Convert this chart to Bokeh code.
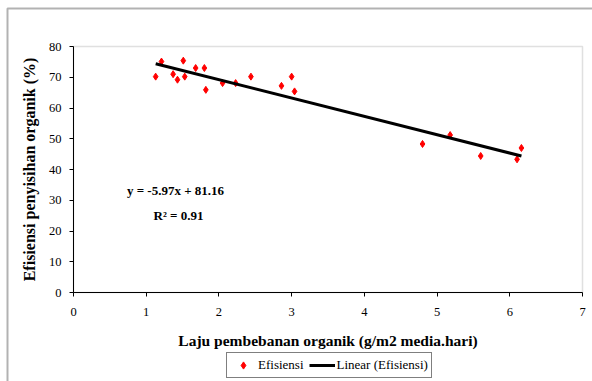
from bokeh.plotting import figure
from bokeh.models import (Range1d, Legend, LegendItem, Label, FixedTicker,
                          LinearAxis, BoxAnnotation)
from bokeh.embed import file_html
from bokeh.resources import INLINE

# Data
loading_rate = [1.13, 1.21, 1.37, 1.43, 1.51, 1.53, 1.68, 1.80, 1.82, 2.05,
                2.23, 2.44, 2.86, 3.00, 3.04, 4.80, 5.18, 5.60, 6.10, 6.16]
efficiency = [70.2, 75.1, 71.0, 69.2, 75.4, 70.2, 73.0, 73.0, 65.9, 68.1,
              68.1, 70.2, 67.2, 70.2, 65.4, 48.3, 51.2, 44.4, 43.3, 47.0]
trend_slope = -5.97
trend_intercept = 81.16
r_squared = 0.91
x_ticks = [0, 1, 2, 3, 4, 5, 6, 7]
y_ticks = [0, 10, 20, 30, 40, 50, 60, 70, 80]
x_axis_min, x_axis_max = 0, 7
y_axis_min, y_axis_max = 0, 80

FONT = "Liberation Serif"
W, H = 592, 381
# plot-area pixel box inside the canvas (layout only)
PL, PR, PT, PB = 73, 582, 46, 292
sx = (PR - PL) / (x_axis_max - x_axis_min)
sy = (PB - PT) / (y_axis_max - y_axis_min)
x_range = Range1d(x_axis_min - PL / sx, x_axis_max + (W - PR) / sx)
y_range = Range1d(y_axis_min - (H - PB) / sy, y_axis_max + PT / sy)

p = figure(width=W, height=H, output_backend="svg", toolbar_location=None,
           x_range=x_range, y_range=y_range, min_border=0,
           x_axis_location=None, y_axis_location=None)
p.background_fill_color = "white"
p.border_fill_color = "white"
p.outline_line_color = None
p.xgrid.visible = False
p.ygrid.visible = False

# plot-area frame (gray)
frame_box = BoxAnnotation(left=x_axis_min, right=x_axis_max, bottom=y_axis_min, top=y_axis_max,
                          fill_alpha=0, line_color="#999999", line_width=1.5, level="underlay")
p.add_layout(frame_box)

xaxis = LinearAxis(fixed_location=y_axis_min, bounds=(x_axis_min, x_axis_max),
                   ticker=FixedTicker(ticks=x_ticks),
                   axis_label="Laju pembebanan organik (g/m2 media.hari)")
yaxis = LinearAxis(fixed_location=x_axis_min, bounds=(y_axis_min, y_axis_max),
                   ticker=FixedTicker(ticks=y_ticks),
                   axis_label="Efisiensi penyisihan organik (%)")
for ax in (xaxis, yaxis):
    ax.axis_line_color = "black"
    ax.axis_line_width = 1
    ax.major_tick_in = 0
    ax.major_tick_out = 4
    ax.minor_tick_in = 0
    ax.minor_tick_out = 0
    ax.major_tick_line_color = "black"
    ax.major_label_text_font = FONT
    ax.major_label_text_font_size = "12.5px"
    ax.major_label_text_color = "black"
    ax.axis_label_text_font = FONT
    ax.axis_label_text_font_style = "bold"
    ax.axis_label_text_color = "black"
xaxis.axis_label_text_font_size = "15.5px"
yaxis.axis_label_text_font_size = "16px"
xaxis.major_label_standoff = 11
yaxis.major_label_standoff = 8
xaxis.axis_label_standoff = 13
yaxis.axis_label_standoff = 8
p.add_layout(xaxis, "below")
p.add_layout(yaxis, "left")

pts = p.scatter(loading_rate, efficiency, marker="diamond", size=7,
                fill_color="red", line_color="red")

x0 = min(loading_rate)
x1 = max(loading_rate)
line_x = [x0, x1]
line_y = [trend_slope * v + trend_intercept for v in line_x]
ln = p.line(line_x, line_y, line_color="black", line_width=3)

eq1 = Label(x=175, y=H - 190, x_units="screen", y_units="screen",
            text=f"y = {trend_slope:.2f}x + {trend_intercept:.2f}",
            text_font=FONT, text_font_style="bold", text_font_size="13px",
            text_align="center", text_baseline="middle", text_color="black")
eq2 = Label(x=178, y=H - 215, x_units="screen", y_units="screen",
            text=f"R\u00b2 = {r_squared:.2f}",
            text_font=FONT, text_font_style="bold", text_font_size="13px",
            text_align="center", text_baseline="middle", text_color="black")
p.add_layout(eq1)
p.add_layout(eq2)

legend = Legend(items=[LegendItem(label="Efisiensi", renderers=[pts]),
                       LegendItem(label="Linear (Efisiensi)", renderers=[ln])],
                orientation="horizontal", location=(226, 3))
legend.label_text_font = FONT
legend.label_text_font_size = "13px"
legend.label_text_color = "black"
legend.border_line_color = "black"
legend.border_line_width = 1
legend.background_fill_alpha = 1
legend.glyph_width = 26
legend.glyph_height = 18
legend.padding = 3
legend.spacing = 5
legend.margin = 0
legend.label_standoff = 2
p.add_layout(legend)

# outer chart border (left and top edges visible)
outer = BoxAnnotation(left=7, right=W + 50, top=H - 8, bottom=-50,
                      left_units="screen", right_units="screen",
                      top_units="screen", bottom_units="screen",
                      fill_alpha=0, line_color="black", line_width=2)
p.add_layout(outer)

open("out.html", "w").write(file_html(p, INLINE))
